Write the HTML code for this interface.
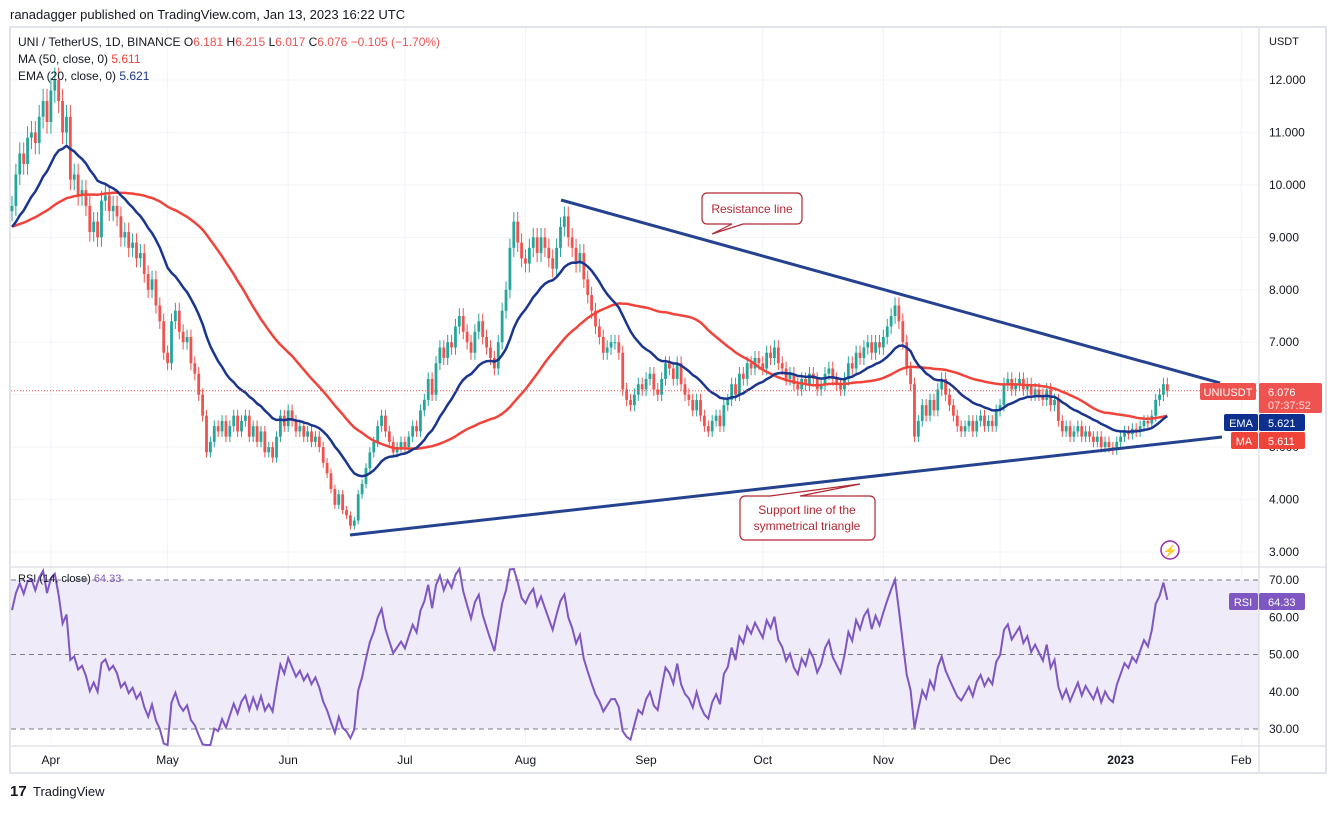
<!DOCTYPE html>
<html><head><meta charset="utf-8">
<style>
html,body{margin:0;padding:0;background:#fff;}
body{width:1337px;height:809px;overflow:hidden;font-family:"Liberation Sans",sans-serif;}
svg text{font-family:"Liberation Sans",sans-serif;}
</style></head>
<body>
<svg id="chart" width="1337" height="809" viewBox="0 0 1337 809" xmlns="http://www.w3.org/2000/svg">
  <text x="10" y="19" font-size="13" fill="#131722">ranadagger published on TradingView.com, Jan 13, 2023 16:22 UTC</text>
  <rect x="10" y="27" width="1316" height="746" fill="none" stroke="#e0e3eb" stroke-width="2"/>
  <g id="grid"></g>
  <rect x="11" y="580" width="1248" height="149" fill="#efebf8"/>
  <g id="rsiLines"></g>
  <line x1="11" y1="567" x2="1326" y2="567" stroke="#d1d4dc" stroke-width="1"/>
  <line x1="1259" y1="28" x2="1259" y2="772" stroke="#d1d4dc" stroke-width="1"/>
  <line x1="11" y1="746" x2="1326" y2="746" stroke="#d1d4dc" stroke-width="1"/>
  <g id="candles"></g>
  <path id="maLine" fill="none" stroke="#f0433a" stroke-width="2.5"/>
  <path id="emaLine" fill="none" stroke="#1a358e" stroke-width="2.5"/>
  <path id="rsiLine" fill="none" stroke="#7e57c2" stroke-width="2"/>
  <line x1="561" y1="200" x2="1220" y2="383" stroke="#24428f" stroke-width="3"/>
  <line x1="350" y1="535" x2="1222" y2="437" stroke="#24428f" stroke-width="3"/>
  <g>
    <path d="M707 193 h90 a5 5 0 0 1 5 5 v21 a5 5 0 0 1 -5 5 h-54 l-31 10 l20 -10 h-25 a5 5 0 0 1 -5 -5 v-21 a5 5 0 0 1 5 -5z" fill="#fff" stroke="#b22833" stroke-width="1.2"/>
    <text x="752" y="213" font-size="12" fill="#b22833" text-anchor="middle">Resistance line</text>
  </g>
  <g>
    <path d="M745 496 h25 l90 -12 l-60 12 h70 a5 5 0 0 1 5 5 v34 a5 5 0 0 1 -5 5 h-125 a5 5 0 0 1 -5 -5 v-34 a5 5 0 0 1 5 -5z" fill="#fff" stroke="#b22833" stroke-width="1.2"/>
    <text x="807" y="514" font-size="12" fill="#b22833" text-anchor="middle">Support line of the</text>
    <text x="807" y="530" font-size="12" fill="#b22833" text-anchor="middle">symmetrical triangle</text>
  </g>
  <line id="lastLine" x1="11" x2="1259" stroke="#ef5350" stroke-width="1" stroke-dasharray="1,2"/>
  <g id="yAxis"></g>
  <g id="xAxis"></g>
  <text x="1269" y="45" font-size="11" fill="#131722">USDT</text>
  <g>
    <text x="18" y="46" font-size="12" fill="#131722">UNI / TetherUS, 1D, BINANCE  <tspan>O</tspan><tspan fill="#ef5350">6.181</tspan>  H<tspan fill="#ef5350">6.215</tspan>  L<tspan fill="#ef5350">6.017</tspan>  C<tspan fill="#ef5350">6.076</tspan>  <tspan fill="#ef5350">−0.105 (−1.70%)</tspan></text>
    <text x="18" y="63" font-size="12" fill="#131722">MA (50, close, 0)  <tspan fill="#f0433a">5.611</tspan></text>
    <text x="18" y="80" font-size="12" fill="#131722">EMA (20, close, 0)  <tspan fill="#1a358e">5.621</tspan></text>
    <text x="18" y="582" font-size="11" fill="#131722">RSI (14, close)  <tspan fill="#7e57c2">64.33</tspan></text>
  </g>
  <g>
    <rect x="1200" y="383" width="56" height="17" rx="2" fill="#ef5350"/>
    <text x="1228" y="396" font-size="11" fill="#fff" text-anchor="middle">UNIUSDT</text>
    <rect x="1259" y="383" width="63" height="30" rx="2" fill="#ef5350"/>
    <text x="1268" y="396" font-size="11" fill="#fff">6.076</text>
    <text x="1268" y="409" font-size="11" fill="#fde0e0">07:37:52</text>
    <rect x="1224" y="414" width="34" height="17" rx="2" fill="#0d2f8f"/>
    <text x="1241" y="427" font-size="11" fill="#fff" text-anchor="middle">EMA</text>
    <rect x="1259" y="414" width="46" height="17" rx="2" fill="#0d2f8f"/>
    <text x="1268" y="427" font-size="11" fill="#fff">5.621</text>
    <rect x="1231" y="432" width="27" height="17" rx="2" fill="#f0433a"/>
    <text x="1244" y="445" font-size="11" fill="#fff" text-anchor="middle">MA</text>
    <rect x="1259" y="432" width="46" height="17" rx="2" fill="#f0433a"/>
    <text x="1268" y="445" font-size="11" fill="#fff">5.611</text>
    <rect x="1229" y="593" width="29" height="17" rx="2" fill="#7e57c2"/>
    <text x="1243" y="606" font-size="11" fill="#fff" text-anchor="middle">RSI</text>
    <rect x="1259" y="593" width="46" height="17" rx="2" fill="#7e57c2"/>
    <text x="1268" y="606" font-size="11" fill="#fff">64.33</text>
  </g>
  <g>
    <circle cx="1170" cy="550" r="9" fill="none" stroke="#9c27b0" stroke-width="1.5"/>
    <text x="1170" y="555" font-size="12" fill="#9c27b0" text-anchor="middle">⚡</text>
  </g>
  <g>
    <text x="10" y="796" font-size="15" font-weight="bold" fill="#131722">17</text>
    <text x="33" y="796" font-size="13" fill="#131722">TradingView</text>
  </g>
</svg>
<script>
const closes = [
9.6,10.2,10.6,10.4,10.9,11.0,10.8,11.3,11.6,11.2,
11.8,12.0,11.6,11.0,11.3,10.1,10.2,9.8,9.9,9.6,9.1,9.3,9.0,9.7,9.8,9.5,9.6,9.4,9.0,9.1,8.8,8.9,8.6,8.7,8.3,8.0,8.2,7.7,7.4,6.8,
6.6,7.4,7.6,7.2,7.0,7.1,6.6,6.4,6.0,5.6,4.9,5.1,5.4,5.3,5.5,5.2,5.4,5.6,5.3,5.5,5.6,5.2,5.4,5.1,5.3,4.9,5.0,4.8,5.2,5.6,5.4,
5.7,5.5,5.3,5.4,5.2,5.3,5.1,5.2,5.0,4.7,4.5,4.2,3.9,4.1,3.8,3.7,3.5,3.6,4.1,4.3,4.6,4.9,5.1,5.4,5.6,5.3,5.1,4.9,5.0,5.1,
5.0,5.2,5.4,5.3,5.7,5.9,6.3,6.0,6.6,6.9,6.7,7.0,6.9,7.3,7.5,7.2,7.0,6.8,7.2,7.4,7.1,6.9,6.7,6.5,7.0,7.6,8.0,8.8,9.3,8.9,8.6,
8.5,8.8,9.0,8.7,9.0,8.8,8.6,8.4,8.8,9.2,9.4,9.0,8.8,8.5,8.7,8.2,7.9,7.6,7.3,7.1,6.8,6.9,7.0,7.0,6.8,6.1,5.9,5.8,6.0,6.2,6.1,
6.3,6.4,6.1,6.0,6.3,6.6,6.5,6.3,6.6,6.2,6.0,5.9,5.7,5.9,5.6,5.4,5.3,5.5,5.6,5.4,5.8,5.9,6.2,6.0,6.4,6.3,6.6,6.5,6.7,6.6,
6.5,6.8,6.7,6.9,6.6,6.5,6.3,6.4,6.2,6.1,6.3,6.2,6.4,6.3,6.1,6.2,6.4,6.5,6.3,6.2,6.1,6.3,6.6,6.5,6.8,6.7,6.9,7.0,6.8,7.0,6.9,
7.1,7.3,7.5,7.7,7.4,7.0,6.5,6.2,5.2,5.5,5.8,5.6,5.9,5.7,6.1,6.3,6.0,5.8,5.6,5.4,5.3,5.4,5.5,5.3,5.5,5.6,5.4,5.5,5.4,5.7,
5.8,6.2,6.3,6.1,6.2,6.3,6.1,6.2,6.0,6.1,6.0,5.9,6.1,5.8,5.9,5.5,5.3,5.4,5.2,5.3,5.4,5.2,5.3,5.2,5.1,5.2,5.0,5.1,5.0,4.95,5.1,
5.2,5.3,5.25,5.35,5.3,5.4,5.5,5.45,5.6,5.9,6.0,6.2,6.076
];
const firstOpen = 9.5;
const priceTicks = [3,4,5,6,7,8,9,10,11,12];
const rsiTicks = [30,40,50,60,70];
const monthLabels = ["Apr","May","Jun","Jul","Aug","Sep","Oct","Nov","Dec","2023","Feb"];
const monthDayIdx = [10,40,71,101,132,163,193,224,254,285,316];
const maSeed = 9.2, emaSeed = 9.2;
const rsiSeedGain = 0.22, rsiSeedLoss = 0.14;

const NS = "http://www.w3.org/2000/svg";
const X = i => 12 + i * 3.89;
const Y = p => 552 - (p - 3) * 52.44;
const RY = r => 729 - (r - 30) * 3.725;
function mk(tag, attrs, parent, text) {
  const e = document.createElementNS(NS, tag);
  for (const k in attrs) e.setAttribute(k, attrs[k]);
  if (text !== undefined) e.textContent = text;
  parent.appendChild(e); return e;
}
const grid = document.getElementById('grid');
priceTicks.forEach(p => {
  const l = mk('line', {x1:11, x2:1259, y1:Y(p), y2:Y(p), stroke:'#f0f3fa'}, grid);
  
  
  const t = mk('text', {x:1269, y:Y(p)+4, 'font-size':12, fill:'#131722'}, document.getElementById('yAxis'), p.toFixed(3));
  
  
});
monthDayIdx.forEach((d, k) => {
  const l = mk('line', {x1:X(d), x2:X(d), y1:28, y2:746, stroke:'#f0f3fa'}, grid);
  
  
  const t = mk('text', {x:X(d), y:764, 'font-size':12, fill:'#131722', 'text-anchor':'middle', 'font-weight': monthLabels[k]==='2023'?'bold':'normal'}, document.getElementById('xAxis'), monthLabels[k]);
  
  
});
const rl = document.getElementById('rsiLines');
rsiTicks.forEach(r => {
  if (r === 30 || r === 50 || r === 70) {
    const l = mk('line', {x1:11, x2:1259, y1:RY(r), y2:RY(r), stroke:'#787b86', 'stroke-dasharray':'5,4', 'stroke-width':1}, rl);
    
    
  }
  const t = mk('text', {x:1269, y:RY(r)+4, 'font-size':12, fill:'#131722'}, rl, r.toFixed(2));
  
  
});
const cg = document.getElementById('candles');
closes.forEach((c, i) => {
  const o = i === 0 ? firstOpen : closes[i-1];
  const up = c >= o;
  const col = up ? '#26a69a' : '#ef5350';
  const hi = Math.max(o, c) * 1.02, lo = Math.min(o, c) * 0.98;
  const g = mk('g', {}, cg);
  
  
  mk('line', {x1:X(i), x2:X(i), y1:Y(hi), y2:Y(lo), stroke:col, 'stroke-width':1}, g);
  const top = Y(Math.max(o, c)), h = Math.max(1, Math.abs(Y(o) - Y(c)));
  mk('rect', {x:X(i)-1.4, y:top, width:2.8, height:h, fill:col}, g);
});
let maPts = [], emaPts = [], ema = emaSeed;
const k = 2 / 21;
closes.forEach((c, i) => {
  let s = 0;
  for (let j = i - 49; j <= i; j++) s += j < 0 ? maSeed : closes[j];
  maPts.push(X(i).toFixed(1) + ',' + Y(s / 50).toFixed(1));
  ema = i === 0 ? emaSeed : c * k + ema * (1 - k);
  emaPts.push(X(i).toFixed(1) + ',' + Y(ema).toFixed(1));
});
document.getElementById('maLine').setAttribute('d', 'M' + maPts.join('L'));
document.getElementById('emaLine').setAttribute('d', 'M' + emaPts.join('L'));
let ag = rsiSeedGain, al = rsiSeedLoss, rsiPts = [];
closes.forEach((c, i) => {
  const prev = i === 0 ? firstOpen : closes[i-1];
  const ch = c - prev, g = Math.max(ch, 0), l = Math.max(-ch, 0);
  ag = (ag * 13 + g) / 14; al = (al * 13 + l) / 14;
  const r = al === 0 ? 100 : 100 - 100 / (1 + ag / al);
  rsiPts.push(X(i).toFixed(1) + ',' + Math.max(569, Math.min(745, RY(r))).toFixed(1));
});
document.getElementById('rsiLine').setAttribute('d', 'M' + rsiPts.join('L'));
const last = closes[closes.length - 1];
const ll = document.getElementById('lastLine');
ll.setAttribute('y1', Y(last)); ll.setAttribute('y2', Y(last));
</script>
</body></html>
